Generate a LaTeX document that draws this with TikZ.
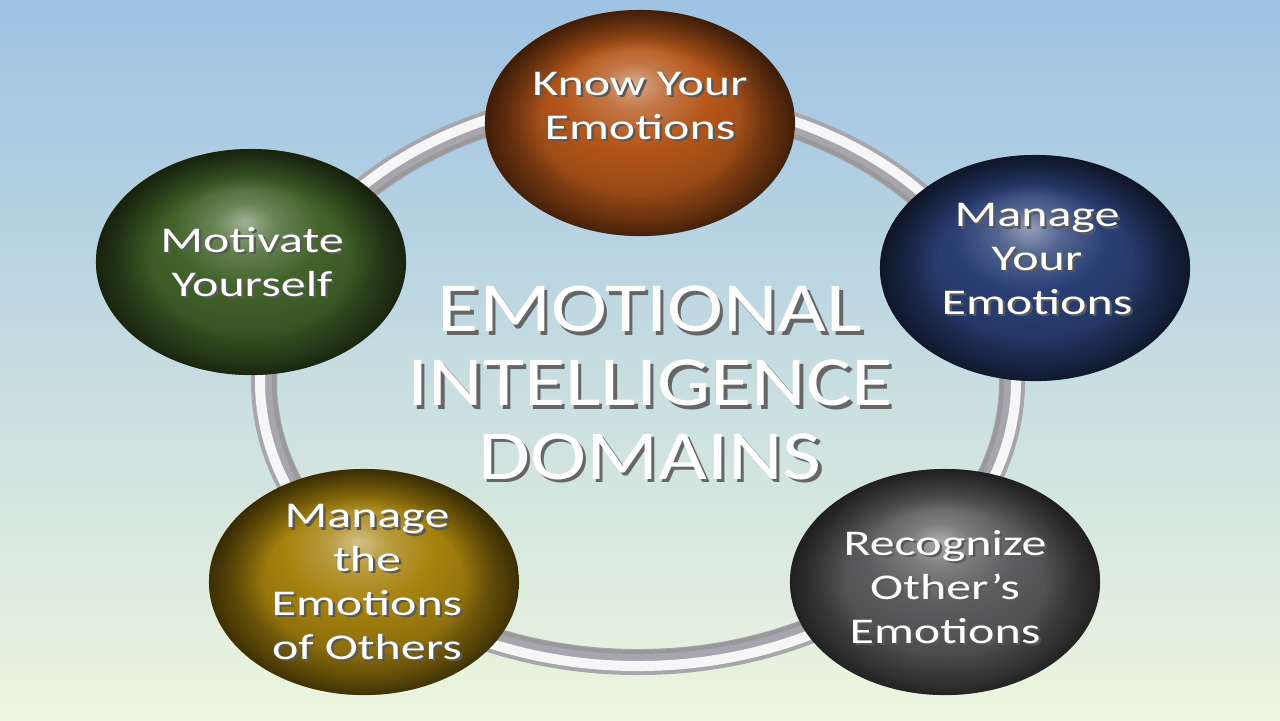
\documentclass[tikz,border=0pt]{standalone}
\usepackage{fontspec}
\setmainfont{Carlito}[FakeStretch=1.38]
\newfontfamily\titlefont{Carlito}[FakeStretch=1.2]
\usetikzlibrary{shapes.geometric, positioning, fadings}

\definecolor{skytop}{RGB}{157,194,228}
\definecolor{skymid}{RGB}{201,226,236}
\definecolor{skybot}{RGB}{237,246,222}
\definecolor{knowcol}{RGB}{180,86,26}
\definecolor{managecol}{RGB}{42,64,118}
\definecolor{recogcol}{RGB}{92,92,94}
\definecolor{otherscol}{RGB}{166,130,14}
\definecolor{motivcol}{RGB}{66,100,42}
\definecolor{ringgray}{RGB}{166,166,172}

% sphere shading, takes its colour from sphcol
\colorlet{sphcol}{gray}
\pgfdeclareradialshading[sphcol]{sphere}{\pgfpoint{-1bp}{9bp}}{%
  color(0bp)=(sphcol!50!white);
  color(5bp)=(sphcol!80!white);
  color(12bp)=(sphcol);
  color(22bp)=(sphcol!82!black);
  color(29bp)=(sphcol!96!black);
  color(34bp)=(sphcol!62!black);
  color(50bp)=(sphcol!62!black)}
% dark rim of the spheres
\pgfdeclareradialshading{rimshade}{\pgfpointorigin}{%
  color(0bp)=(pgftransparent);
  color(16bp)=(pgftransparent);
  color(25bp)=(pgftransparent!40);
  color(50bp)=(pgftransparent!40)}
\pgfdeclarefading{rim}{\pgfuseshading{rimshade}}

\tikzset{
  sph/.code={\colorlet{sphcol}{#1}},
  sphere/.style={ellipse, minimum width=3.1cm, minimum height=2.26cm,
    inner sep=0pt, shade, shading=sphere,
    path picture={\fill[black, path fading=rim]
      (path picture bounding box.south west) rectangle
      (path picture bounding box.north east);}},
  domtext/.style={text=white, align=center, inner sep=0pt,
    font=\fontsize{10.3}{12.5}\selectfont},
  domshadow/.style={domtext, text=black!65},
  title/.style={text=white, align=center, inner sep=0pt,
    font=\titlefont\fontsize{20}{21}\selectfont},
  titleshadow/.style={title, text=black!60},
}

\begin{document}
\begin{tikzpicture}[x=0.01cm, y=-0.01cm]
  % background
  \shade[top color=skytop, middle color=skymid, bottom color=skybot]
    (0,0) rectangle (1280,720);
  \useasboundingbox (0,0) rectangle (1280,720);

  % ring
  \draw[ringgray, line width=0.26cm] (638,381) ellipse [x radius=374, y radius=281];
  \draw[white!90!ringgray, line width=0.1cm] (638,381) ellipse [x radius=378, y radius=285];
  \draw[black!40, line width=0.04cm] (638,381) ellipse [x radius=364, y radius=271];

  % spheres
  \node[sphere, sph=knowcol] (know) at (640,123) {};
  \node[sphere, sph=managecol] (manage) at (1035,268) {};
  \node[sphere, sph=recogcol] (recog) at (945,582) {};
  \node[sphere, sph=otherscol] (others) at (364,582) {};
  \node[sphere, sph=motivcol] (motiv) at (251,262) {};

  % labels
  \node[domshadow] (know-shadow) at ([shift={(0.7pt,-0.7pt)}]640,106) {Know Your\\Emotions};
  \node[domtext] (know-text) at (640,106) {Know Your\\Emotions};
  \node[domshadow] (manage-shadow) at ([shift={(0.7pt,-0.7pt)}]1037,259) {Manage\\Your\\Emotions};
  \node[domtext] (manage-text) at (1037,259) {Manage\\Your\\Emotions};
  \node[domshadow] (recog-shadow) at ([shift={(0.7pt,-0.7pt)}]945,587) {Recognize\\Other’s\\Emotions};
  \node[domtext] (recog-text) at (945,587) {Recognize\\Other’s\\Emotions};
  \node[domshadow] (others-shadow) at ([shift={(0.7pt,-0.7pt)}]367,582) {Manage\\the\\Emotions\\of Others};
  \node[domtext] (others-text) at (367,582) {Manage\\the\\Emotions\\of Others};
  \node[domshadow] (motiv-shadow) at ([shift={(0.7pt,-0.7pt)}]252,262) {Motivate\\Yourself};
  \node[domtext] (motiv-text) at (252,262) {Motivate\\Yourself};

  % title
  \node[titleshadow] (title-shadow) at ([shift={(1pt,-1pt)}]650,383) {EMOTIONAL\\INTELLIGENCE\\DOMAINS};
  \node[title] (title) at (650,383) {EMOTIONAL\\INTELLIGENCE\\DOMAINS};
\end{tikzpicture}
\end{document}
